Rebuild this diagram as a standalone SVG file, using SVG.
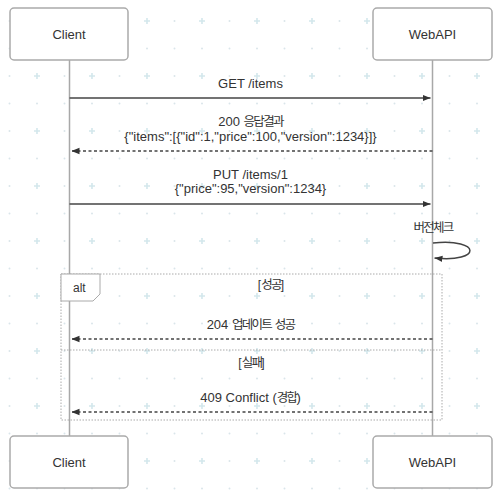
<svg xmlns="http://www.w3.org/2000/svg" width="500" height="498" viewBox="0 0 500 498">
<defs>
<pattern id="grid" x="37" y="21" width="55" height="55" patternUnits="userSpaceOnUse">
<path d="M-3,0 H3 M0,-3 V3 M52,0 H58 M55,-3 V3 M-3,55 H3 M0,52 V58 M52,55 H58 M55,52 V58" stroke="#d3e7ec" stroke-width="1.6" fill="none"/>
<circle cx="27.5" cy="0" r="1" fill="#dae5ea"/>
<circle cx="27.5" cy="55" r="1" fill="#dae5ea"/>
<circle cx="0" cy="27.5" r="1" fill="#dae5ea"/>
<circle cx="55" cy="27.5" r="1" fill="#dae5ea"/>
<circle cx="27.5" cy="27.5" r="1" fill="#dae5ea"/>
</pattern>
<marker id="ah" viewBox="0 0 10 10" refX="10" refY="5" markerWidth="8" markerHeight="8" markerUnits="userSpaceOnUse" orient="auto">
<path d="M0,1 L10,5 L0,9 Z" fill="#333"/>
</marker>
</defs>
<style>
text{font-family:"Liberation Sans","Noto Sans CJK KR",Arial,sans-serif;font-size:13px;fill:#333;}
.k{font-family:"Noto Sans CJK KR",sans-serif;font-size:12.5px;letter-spacing:-1.7px;}
.box{fill:#fff;stroke:#aaa;stroke-width:1.5;}
.life{stroke:#a8a8a8;stroke-width:1.5;fill:none;}
.msg{stroke:#444;stroke-width:1.5;fill:none;marker-end:url(#ah);}
.dash{stroke-dasharray:3,2.5;}
.frame{fill:none;stroke:#aaa;stroke-width:1;stroke-dasharray:1.5,1.5;}
.c{text-anchor:middle;}
.sm{font-size:12px;}
</style>
<rect width="500" height="498" fill="#fff"/>
<rect width="500" height="498" fill="url(#grid)"/>
<g id="lifelines">
<line class="life" x1="69.5" y1="60" x2="69.5" y2="436"/>
<line class="life" x1="432.5" y1="60" x2="432.5" y2="436"/>
</g>
<g id="client-top"><rect class="box" x="10" y="8" width="118" height="52" rx="4"/><text class="c" x="69" y="38.5">Client</text></g>
<g id="webapi-top"><rect class="box" x="373" y="8" width="119" height="52" rx="4"/><text class="c" x="432.5" y="38.5">WebAPI</text></g>
<g id="client-bottom"><rect class="box" x="10" y="436" width="118" height="52" rx="4"/><text class="c" x="69" y="466.5">Client</text></g>
<g id="webapi-bottom"><rect class="box" x="373" y="436" width="119" height="52" rx="4"/><text class="c" x="432.5" y="466.5">WebAPI</text></g>
<g id="alt-frame">
<rect class="frame" x="61" y="274" width="381" height="146"/>
<path d="M61,274 H100 V294 L93,301 H61 Z" fill="#fff" stroke="#aaa" stroke-width="1"/>
<text class="sm" x="73" y="292">alt</text>
<text class="c sm" x="271" y="288.5">[<tspan class="k">성공</tspan>]</text>
<line class="frame" x1="61" y1="350" x2="442" y2="350"/>
<text class="c sm" x="251.5" y="366.5">[<tspan class="k">실패</tspan>]</text>
</g>
<g id="connectors">
<text class="c" x="250.5" y="88">GET /items</text>
<line class="msg" x1="69.5" y1="98" x2="430.5" y2="98"/>
<text class="c" x="250.5" y="126">200 <tspan class="k">응답결과</tspan></text>
<text class="c" x="250.5" y="140.5">{"items":[{"id":1,"price":100,"version":1234}]}</text>
<line class="msg dash" x1="432.5" y1="151" x2="71.5" y2="151"/>
<text class="c" x="250.5" y="178.5">PUT /items/1</text>
<text class="c" x="250.5" y="192.5">{"price":95,"version":1234}</text>
<line class="msg" x1="69.5" y1="204" x2="430.5" y2="204"/>
<text class="c" x="433" y="231.5"><tspan class="k">버전체크</tspan></text>
<path class="msg" d="M433,243 C482,238 482,263 434.5,258"/>
<text class="c" x="250.5" y="328.5">204 <tspan class="k">업데이트</tspan> <tspan class="k">성공</tspan></text>
<line class="msg dash" x1="432.5" y1="339" x2="71.5" y2="339"/>
<text class="c" x="250.5" y="401.5">409 Conflict (<tspan class="k">경합</tspan>)</text>
<line class="msg dash" x1="432.5" y1="412" x2="71.5" y2="412"/>
</g>
</svg>
